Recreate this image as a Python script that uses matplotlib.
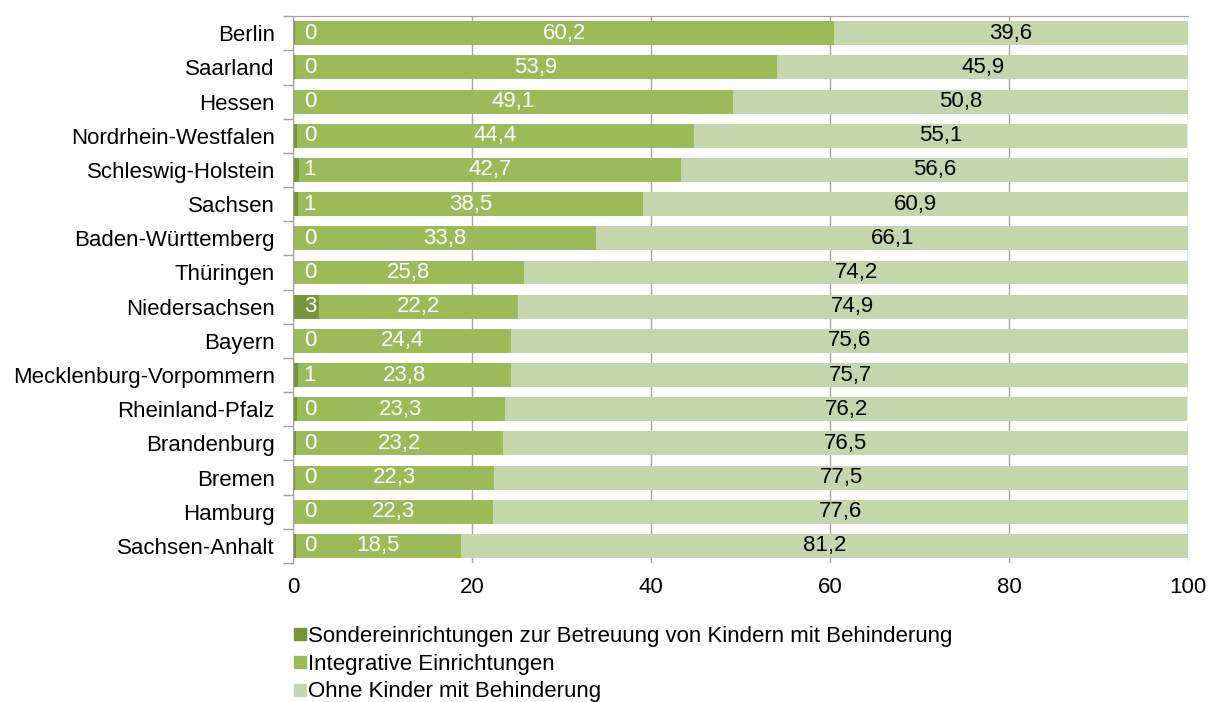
import matplotlib
matplotlib.use("Agg")
import matplotlib.pyplot as plt
from matplotlib.lines import Line2D
import numpy as np

plt.rcParams['font.family'] = ['Liberation Sans', 'DejaVu Sans']

states = ["Berlin", "Saarland", "Hessen", "Nordrhein-Westfalen", "Schleswig-Holstein",
          "Sachsen", "Baden-Württemberg", "Thüringen", "Niedersachsen", "Bayern",
          "Mecklenburg-Vorpommern", "Rheinland-Pfalz", "Brandenburg", "Bremen",
          "Hamburg", "Sachsen-Anhalt"]
sonder = [0.2, 0.2, 0.1, 0.4, 0.7, 0.6, 0.1, 0.0, 2.9, 0.0, 0.6, 0.4, 0.3, 0.2, 0.1, 0.3]
integrativ = [60.2, 53.9, 49.1, 44.4, 42.7, 38.5, 33.8, 25.8, 22.2, 24.4, 23.8, 23.3, 23.2, 22.3, 22.3, 18.5]
ohne = [39.6, 45.9, 50.8, 55.1, 56.6, 60.9, 66.1, 74.2, 74.9, 75.6, 75.7, 76.2, 76.5, 77.5, 77.6, 81.2]

series_names = ["Sondereinrichtungen zur Betreuung von Kindern mit Behinderung",
                "Integrative Einrichtungen",
                "Ohne Kinder mit Behinderung"]
colors = ["#77933C", "#9BBB59", "#C6D6AC"]

fig = plt.figure(figsize=(12.12, 7.02), dpi=100)
ax = fig.add_axes([0.2417, 0.198, 0.7386, 0.779])

y = np.arange(len(states))
s = np.array(sonder)
i = np.array(integrativ)
o = np.array(ohne)
h = 0.70
ax.barh(y, s, height=h, color=colors[0], zorder=2)
ax.barh(y, i, left=s, height=h, color=colors[1], zorder=2)
ax.barh(y, o, left=s + i, height=h, color=colors[2], zorder=2)

fs = 16
for k in range(len(states)):
    ax.text(1.9, y[k], "%.0f" % s[k], color="white", ha="center", va="center", fontsize=fs, zorder=3)
    ax.text(s[k] + i[k] / 2, y[k], ("%.1f" % i[k]).replace(".", ","), color="white",
            ha="center", va="center", fontsize=fs, zorder=3)
    ax.text(s[k] + i[k] + o[k] / 2, y[k], ("%.1f" % o[k]).replace(".", ","), color="black",
            ha="center", va="center", fontsize=fs, zorder=3)

ax.set_xlim(0, 100)
ax.set_ylim(len(states) - 0.5, -0.5)
ax.set_xticks([0, 20, 40, 60, 80, 100])
ax.set_yticks(y)
ax.set_yticklabels(states)
ax.set_yticks(np.arange(-0.5, len(states)), minor=True)
ax.tick_params(axis="y", which="major", length=0, labelsize=fs, pad=13)
ax.tick_params(axis="y", which="minor", length=7, color="#A0A0A0", width=1)
ax.tick_params(axis="x", length=0, labelsize=fs, pad=10)
ax.xaxis.grid(True, color="#A6A6A6", linewidth=1, zorder=0)
ax.set_axisbelow(True)
for side in ["right", "bottom"]:
    ax.spines[side].set_visible(False)
ax.spines["left"].set_color("#A0A0A0")
ax.spines["top"].set_color("#A0A0A0")

handles = [Line2D([], [], marker="s", linestyle="none", markersize=8, color=c) for c in colors]
fig.legend(handles, series_names, loc="upper left", bbox_to_anchor=(0.231, 0.121),
           frameon=False, fontsize=fs, handletextpad=-0.15, labelspacing=0.3,
           borderaxespad=0, handlelength=1.0)

fig.savefig("out.png", dpi=100)
